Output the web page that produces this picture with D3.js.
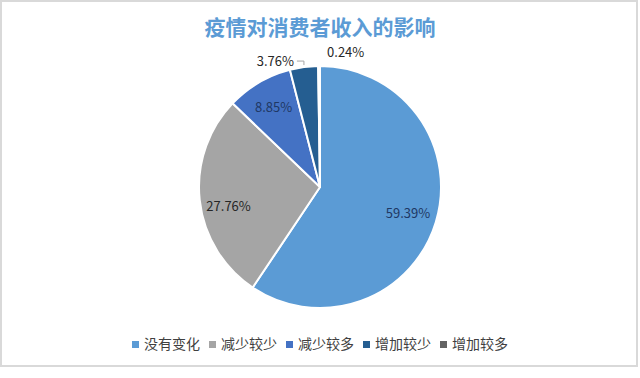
<!DOCTYPE html>
<html>
<head>
<meta charset="utf-8">
<script src="https://cdn.jsdelivr.net/npm/d3@7"></script>
<style>
  html, body { margin: 0; padding: 0; background: #fff; }
  svg { display: block; }
  text { font-family: "Noto Sans CJK SC", "Noto Sans", sans-serif; }
</style>
</head>
<body>
<svg id="chart" width="640" height="378"></svg>
<script>
// data
var title = "疫情对消费者收入的影响";
var categories = ["没有变化", "减少较少", "减少较多", "增加较少", "增加较多"];
var values = [59.39, 27.76, 8.85, 3.76, 0.24];
var colors = ["#5B9BD5", "#A5A5A5", "#4472C4", "#255E91", "#636363"];

var width = 640, height = 378;
var cx = 320, cy = 187, radius = 121;

var svg = d3.select("#chart");

// frame
svg.append("rect")
    .attr("x", 1).attr("y", 1)
    .attr("width", width - 4).attr("height", 365)
    .attr("fill", "#fff")
    .attr("stroke", "#d9d9d9")
    .attr("stroke-width", 2);

svg.append("text")
    .attr("x", cx).attr("y", 35)
    .attr("text-anchor", "middle")
    .attr("font-size", 21)
    .attr("font-weight", "bold")
    .attr("fill", "#5B9BD5")
    .text(title);

var rows = categories.map(function(c, i) { return {name: c, value: values[i], color: colors[i], i: i}; });

var pie = d3.pie().sort(null).value(function(d) { return d.value; });
var arc = d3.arc().innerRadius(0).outerRadius(radius);
var labelArc = d3.arc().innerRadius(radius * 0.76).outerRadius(radius * 0.76);
var arcs = pie(rows);

var g = svg.append("g").attr("transform", "translate(" + cx + "," + cy + ")");

g.selectAll("path.slice")
    .data(arcs)
    .enter().append("path")
    .attr("class", "slice")
    .attr("d", arc)
    .attr("fill", function(d) { return d.data.color; })
    .attr("stroke", "#fff")
    .attr("stroke-width", 2)
    .attr("stroke-linejoin", "round");

var fmt = function(v) { return v.toFixed(2) + "%"; };

// inside labels for the three big slices
g.selectAll("text.inlabel")
    .data(arcs.filter(function(d) { return d.data.value > 5; }))
    .enter().append("text")
    .attr("class", "inlabel")
    .attr("transform", function(d) {
        var p = labelArc.centroid(d);
        if (d.data.i === 1) p[1] += 9;
        return "translate(" + p[0] + "," + p[1] + ")";
    })
    .attr("text-anchor", "middle")
    .attr("dy", "0.35em")
    .attr("font-size", 13)
    .attr("fill", function(d) { return d.data.i === 1 ? "#262626" : "#1F3864"; })
    .text(function(d) { return fmt(d.data.value); });

// outside labels for the two small slices
var outArc = d3.arc().innerRadius(radius).outerRadius(radius);
var small = arcs.filter(function(d) { return d.data.value <= 5; });

small.forEach(function(d) {
    var p = outArc.centroid(d);
    if (d.data.i === 3) {
        // leader line to the 3.76% label
        var lx = p[0], ly = p[1] - 2;
        g.append("path")
            .attr("d", "M" + lx + "," + ly + "V" + (ly - 4) + "H" + (lx - 7))
            .attr("fill", "none")
            .attr("stroke", "#a6a6a6")
            .attr("stroke-width", 1);
        g.append("text")
            .attr("x", lx - 10).attr("y", ly - 4)
            .attr("dy", "0.35em")
            .attr("text-anchor", "end")
            .attr("font-size", 13)
            .attr("fill", "#262626")
            .text(fmt(d.data.value));
    } else {
        g.append("text")
            .attr("x", p[0] + 8).attr("y", p[1] - 14)
            .attr("dy", "0.35em")
            .attr("text-anchor", "start")
            .attr("font-size", 13)
            .attr("fill", "#262626")
            .text(fmt(d.data.value));
    }
});

// legend
var legend = svg.append("g").attr("class", "legend");
var items = legend.selectAll("g")
    .data(rows)
    .enter().append("g");
items.append("rect")
    .attr("width", 7).attr("height", 7)
    .attr("y", -8)
    .attr("fill", function(d) { return d.color; });
items.append("text")
    .attr("x", 12)
    .attr("font-size", 14)
    .attr("fill", "#404040")
    .text(function(d) { return d.name; });

var gap = 9;
var xpos = 0;
items.each(function() {
    var w = 12 + this.querySelector("text").getComputedTextLength();
    d3.select(this).attr("transform", "translate(" + xpos + ",0)");
    xpos += w + gap;
});
var total = xpos - gap;
legend.attr("transform", "translate(" + (cx - total / 2) + ",349)");
</script>
</body>
</html>
